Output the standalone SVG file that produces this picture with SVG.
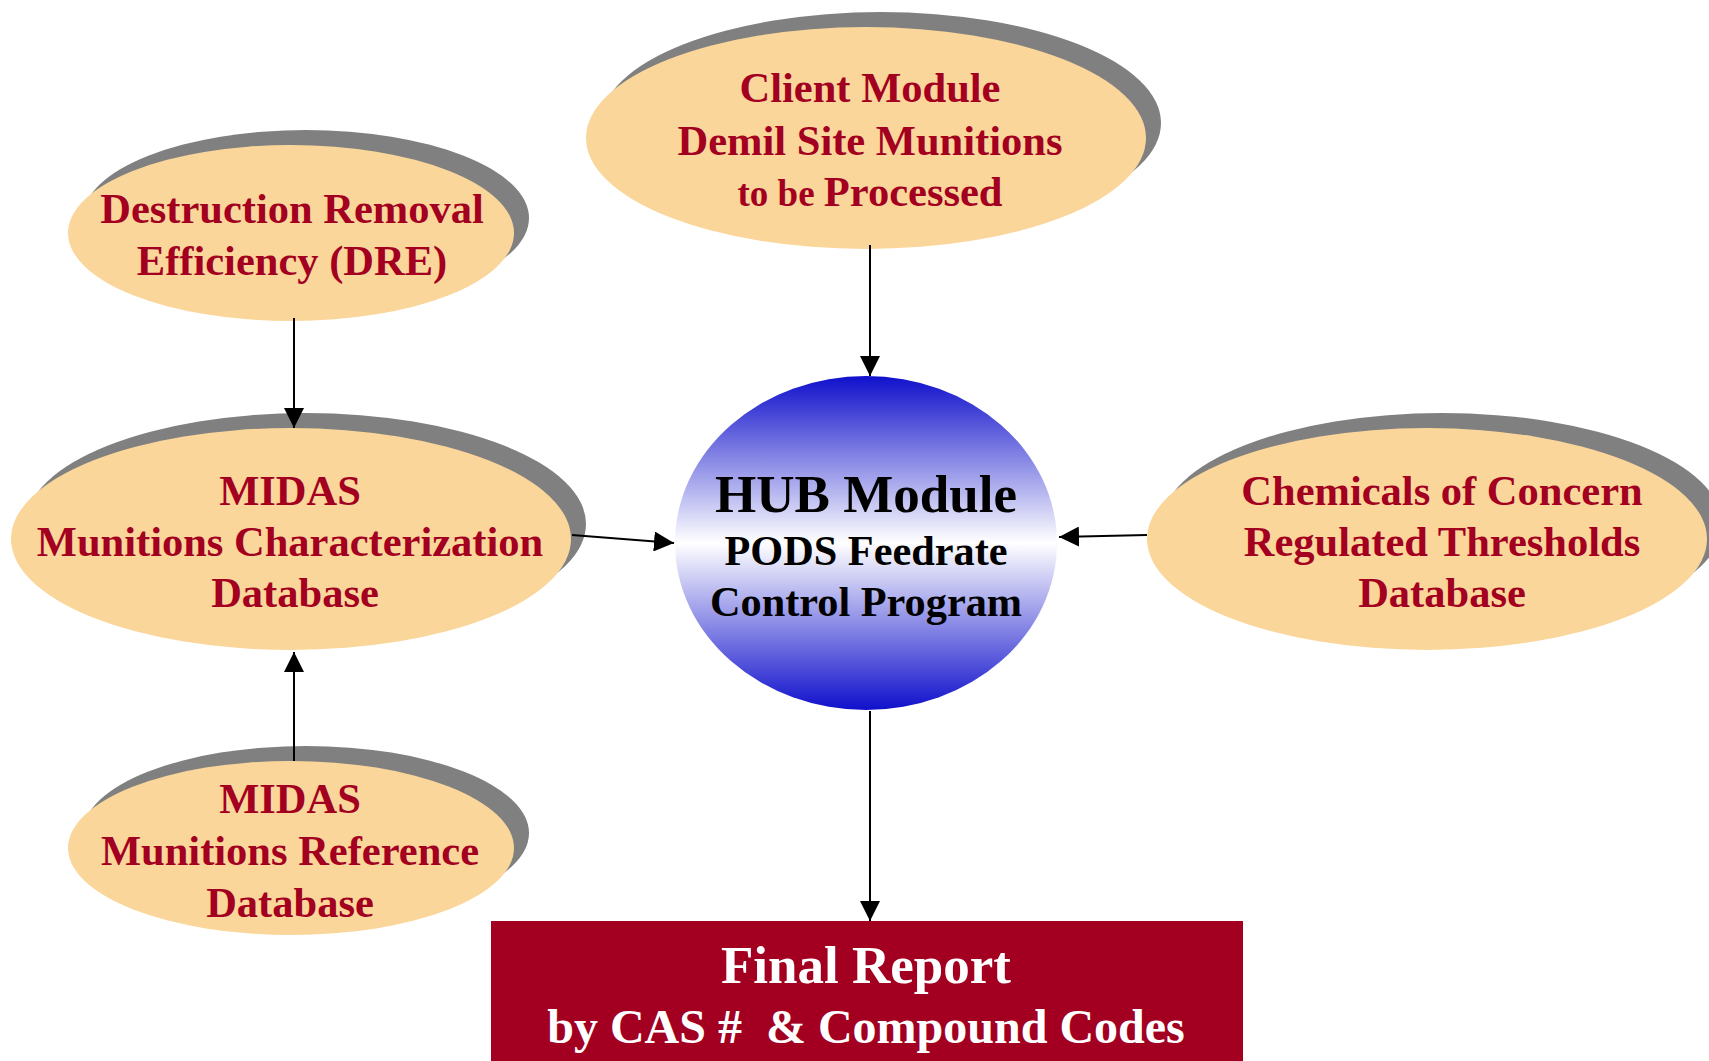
<svg xmlns="http://www.w3.org/2000/svg" width="1709" height="1061" viewBox="0 0 1709 1061">
<style>
.sh{fill:#808080}
.el{fill:#FAD69A}
.t{font-family:"Liberation Serif","Times New Roman",serif;font-weight:bold;fill:#A30021;text-anchor:middle;font-size:42.5px}
.h{font-family:"Liberation Serif","Times New Roman",serif;font-weight:bold;fill:#000;text-anchor:middle;font-size:42.3px}
.w{font-family:"Liberation Serif","Times New Roman",serif;font-weight:bold;fill:#fff;text-anchor:middle;white-space:pre}
.c{stroke:#000;stroke-width:2;fill:none;marker-end:url(#ah)}
</style>
<defs>
<marker id="ah" viewBox="0 0 20 20" refX="20" refY="10" markerWidth="20" markerHeight="20" markerUnits="userSpaceOnUse" orient="auto">
<path d="M0,0 L20,10 L0,20 Z" fill="#000"/>
</marker>
<linearGradient id="hubg" x1="0" y1="0" x2="0" y2="1">
<stop offset="0" stop-color="#1010CC"/>
<stop offset="0.5" stop-color="#FFFFFF"/>
<stop offset="1" stop-color="#1010CC"/>
</linearGradient>
</defs>
<rect width="1709" height="1061" fill="#fff"/>
<g id="dre">
<ellipse class="sh" cx="306" cy="218" rx="223" ry="88"/>
<ellipse class="el" cx="291" cy="233" rx="223" ry="88"/>
<text class="t" x="292" y="223">Destruction Removal</text>
<text class="t" x="292" y="275">Efficiency (DRE)</text>
</g>
<g id="client">
<ellipse class="sh" cx="881" cy="123" rx="280" ry="111"/>
<ellipse class="el" cx="866" cy="138" rx="280" ry="111"/>
<text class="t" x="870" y="102">Client Module</text>
<text class="t" x="870" y="155">Demil Site Munitions</text>
<text class="t" x="870" y="206"><tspan style="font-size:37px">to be </tspan>Processed</text>
</g>
<g id="midas-char">
<ellipse class="sh" cx="306" cy="524" rx="280" ry="111"/>
<ellipse class="el" cx="291" cy="539" rx="280" ry="111"/>
<text class="t" x="290" y="505">MIDAS</text>
<text class="t" x="290" y="556">Munitions Characterization</text>
<text class="t" x="295" y="607">Database</text>
</g>
<g id="hub">
<ellipse cx="866" cy="543" rx="191" ry="167" fill="url(#hubg)"/>
<text class="h" x="866" y="512" style="font-size:53px">HUB Module</text>
<text class="h" x="866" y="565">PODS Feedrate</text>
<text class="h" x="866" y="616">Control Program</text>
</g>
<g id="chemicals">
<ellipse class="sh" cx="1442" cy="524" rx="280" ry="111"/>
<ellipse class="el" cx="1427" cy="539" rx="280" ry="111"/>
<text class="t" x="1442" y="505">Chemicals of Concern</text>
<text class="t" x="1442" y="556">Regulated Thresholds</text>
<text class="t" x="1442" y="607">Database</text>
</g>
<g id="midas-ref">
<ellipse class="sh" cx="306" cy="833" rx="223" ry="87"/>
<ellipse class="el" cx="291" cy="848" rx="223" ry="87"/>
<text class="t" x="290" y="813">MIDAS</text>
<text class="t" x="290" y="865">Munitions Reference</text>
<text class="t" x="290" y="917">Database</text>
</g>
<g id="final-report">
<rect x="491" y="921" width="752" height="145" fill="#A30021"/>
<text class="w" x="866" y="983" style="font-size:53px">Final Report</text>
<text class="w" x="866" y="1043" style="font-size:48px">by CAS #  &amp; Compound Codes</text>
</g>
<g id="connectors">
<path class="c" d="M294,318 L294,428"/>
<path class="c" d="M870,245 L870,376"/>
<path class="c" d="M572,535 L674,543"/>
<path class="c" d="M1147,535 L1059,537"/>
<path class="c" d="M294,761 L294,652"/>
<path class="c" d="M870,711 L870,921"/>
</g>
</svg>
